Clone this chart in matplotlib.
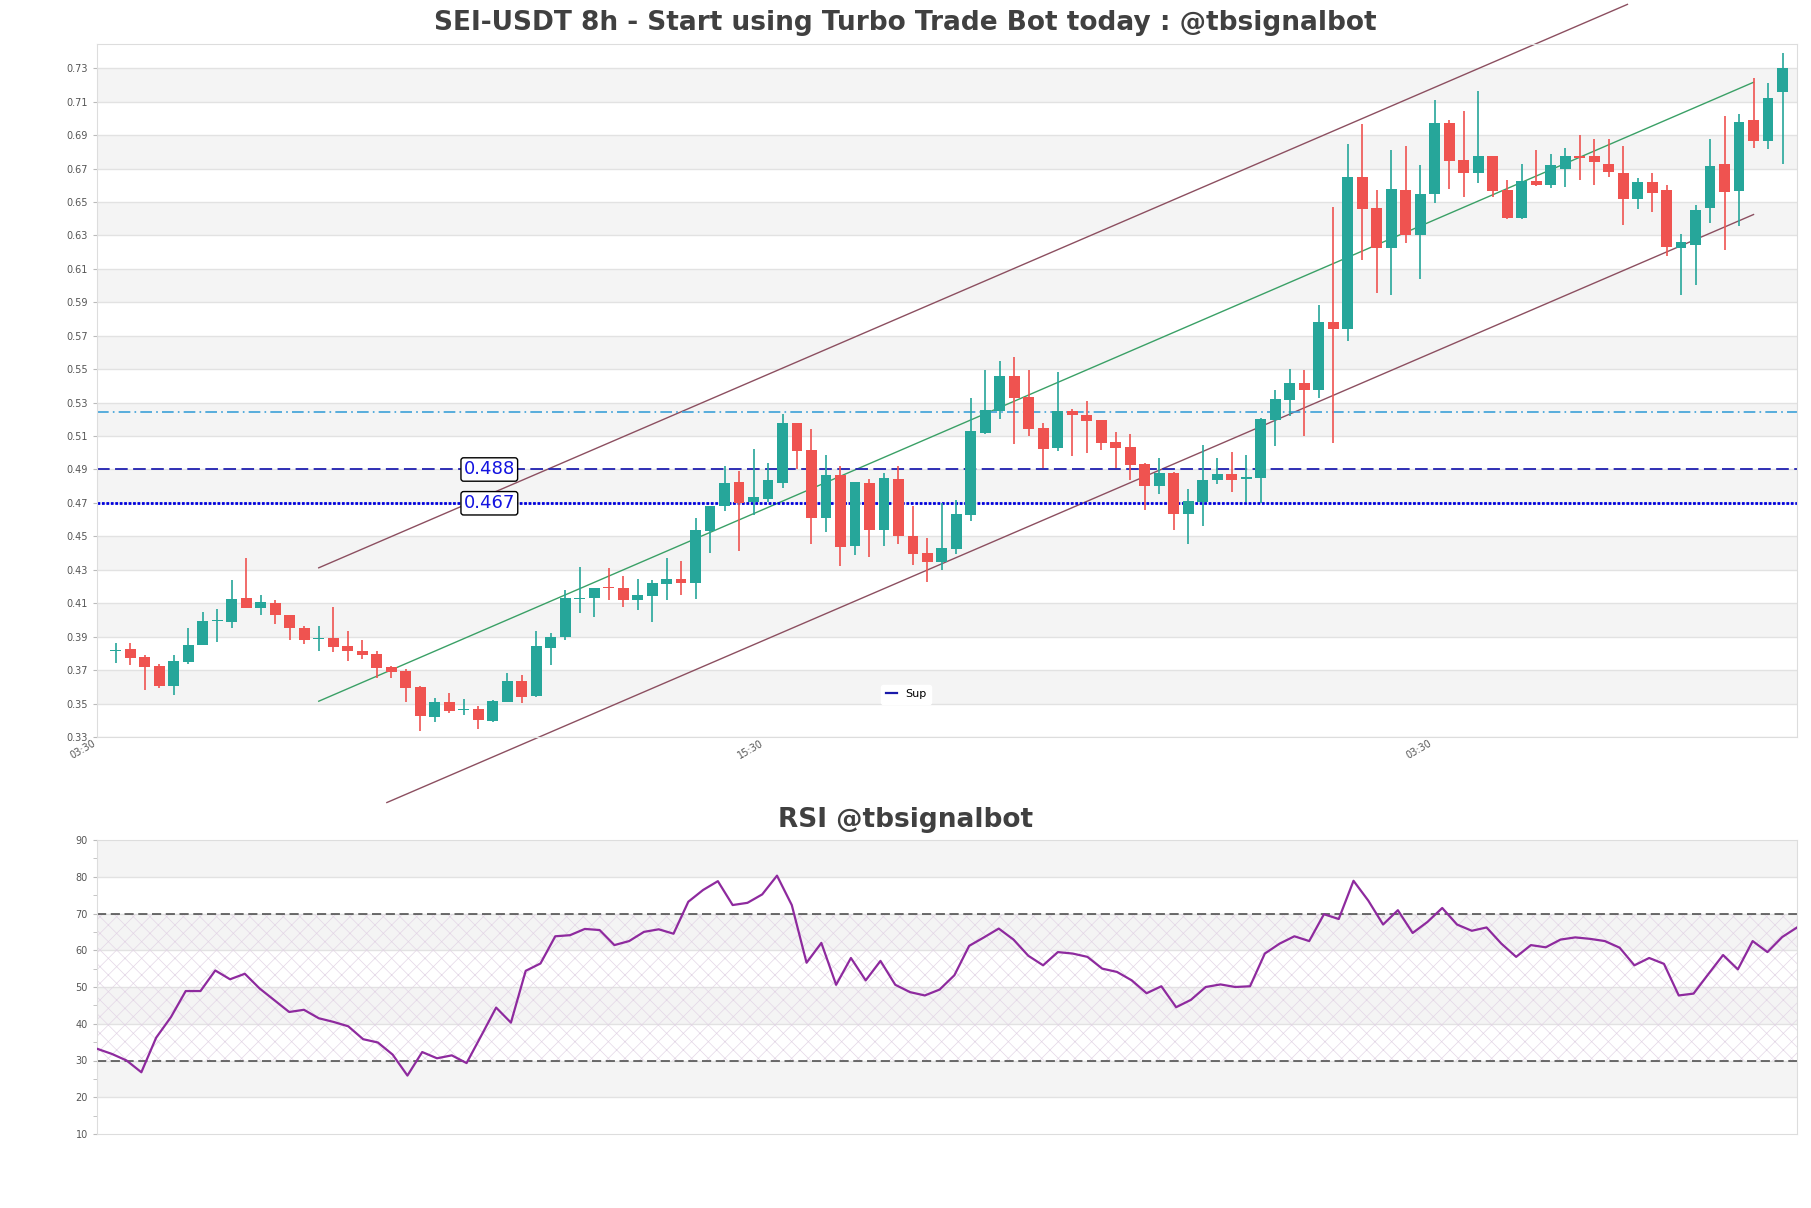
"""SEI-USDT 8h candles with channel + support levels, RSI panel below."""
import numpy as np
import matplotlib; matplotlib.use("Agg")
import matplotlib.pyplot as plt
from matplotlib.ticker import MultipleLocator

# ---- OHLC ----
opens = [0.3792, 0.3802, 0.3753, 0.3699, 0.3580, 0.3725, 0.3828, 0.3968, 0.3966, 0.4107,
         0.4047, 0.4079, 0.4007, 0.3928, 0.3862, 0.3866, 0.3820, 0.3790, 0.3771, 0.3695,
         0.3671, 0.3574, 0.3394, 0.3487, 0.3439, 0.3445, 0.3373, 0.3485, 0.3609, 0.3521,
         0.3810, 0.3874, 0.4104, 0.4106, 0.4172, 0.4166, 0.4094, 0.4122, 0.4194, 0.4220,
         0.4200, 0.4510, 0.4657, 0.4800, 0.4680, 0.4702, 0.4798, 0.5155, 0.4993, 0.4586,
         0.4843, 0.4420, 0.4795, 0.4516, 0.4819, 0.4476, 0.4376, 0.4324, 0.4400, 0.4606,
         0.5095, 0.5225, 0.5438, 0.5310, 0.5125, 0.5007, 0.5225, 0.5201, 0.5173, 0.5039,
         0.5011, 0.4911, 0.4779, 0.4855, 0.4611, 0.4683, 0.4811, 0.4847, 0.4819, 0.4823,
         0.5174, 0.5294, 0.5392, 0.5354, 0.5758, 0.5718, 0.6626, 0.6441, 0.6201, 0.6550,
         0.6281, 0.6521, 0.6947, 0.6725, 0.6649, 0.6749, 0.6549, 0.6379, 0.6603, 0.6577,
         0.6673, 0.6749, 0.6749, 0.6701, 0.6647, 0.6493, 0.6597, 0.6545, 0.6202, 0.6218,
         0.6441, 0.6701, 0.6541, 0.6965, 0.6841, 0.7136]
highs = [0.3838, 0.3838, 0.3765, 0.3715, 0.3765, 0.3928, 0.4025, 0.4041, 0.4218, 0.4344,
         0.4127, 0.4095, 0.4007, 0.3938, 0.3942, 0.4055, 0.3910, 0.3856, 0.3788, 0.3701,
         0.3685, 0.3580, 0.3510, 0.3537, 0.3505, 0.3461, 0.3497, 0.3657, 0.3647, 0.3908,
         0.3896, 0.4158, 0.4290, 0.4170, 0.4284, 0.4238, 0.4220, 0.4214, 0.4344, 0.4328,
         0.4584, 0.4657, 0.4895, 0.4870, 0.4999, 0.4915, 0.5209, 0.5155, 0.5119, 0.4963,
         0.4895, 0.4799, 0.4819, 0.4855, 0.4895, 0.4659, 0.4464, 0.4675, 0.4691, 0.5303,
         0.5472, 0.5526, 0.5546, 0.5474, 0.5155, 0.5458, 0.5239, 0.5287, 0.5173, 0.5101,
         0.5087, 0.4915, 0.4943, 0.4859, 0.4759, 0.5023, 0.4943, 0.4979, 0.4963, 0.5186,
         0.5354, 0.5478, 0.5474, 0.5857, 0.6447, 0.6820, 0.6941, 0.6550, 0.6784, 0.6808,
         0.6696, 0.7086, 0.6965, 0.7021, 0.7142, 0.6749, 0.6609, 0.6701, 0.6785, 0.6761,
         0.6797, 0.6877, 0.6853, 0.6853, 0.6809, 0.6621, 0.6647, 0.6577, 0.6282, 0.6457,
         0.6853, 0.6993, 0.7005, 0.7220, 0.7186, 0.7366]
lows = [0.3717, 0.3707, 0.3556, 0.3568, 0.3530, 0.3715, 0.3828, 0.3846, 0.3930, 0.4045,
        0.4003, 0.3954, 0.3858, 0.3834, 0.3792, 0.3784, 0.3731, 0.3743, 0.3631, 0.3631,
        0.3484, 0.3309, 0.3363, 0.3421, 0.3409, 0.3321, 0.3365, 0.3485, 0.3477, 0.3517,
        0.3705, 0.3856, 0.4020, 0.3995, 0.4096, 0.4054, 0.4034, 0.3965, 0.4096, 0.4126,
        0.4100, 0.4376, 0.4628, 0.4390, 0.4606, 0.4680, 0.4764, 0.4879, 0.4432, 0.4504,
        0.4300, 0.4366, 0.4354, 0.4416, 0.4432, 0.4306, 0.4204, 0.4276, 0.4370, 0.4568,
        0.5091, 0.5179, 0.5031, 0.5079, 0.4883, 0.4989, 0.4959, 0.4977, 0.4995, 0.4883,
        0.4815, 0.4635, 0.4731, 0.4515, 0.4431, 0.4539, 0.4787, 0.4739, 0.4679, 0.4675,
        0.5015, 0.5198, 0.5079, 0.5306, 0.5035, 0.5642, 0.6127, 0.5933, 0.5917, 0.6233,
        0.6013, 0.6467, 0.6556, 0.6505, 0.6589, 0.6505, 0.6373, 0.6373, 0.6573, 0.6561,
        0.6565, 0.6607, 0.6577, 0.6625, 0.6338, 0.6437, 0.6414, 0.6154, 0.5922, 0.5982,
        0.6350, 0.6190, 0.6334, 0.6801, 0.6793, 0.6701]
closes = [0.3795, 0.3749, 0.3695, 0.3580, 0.3729, 0.3826, 0.3970, 0.3972, 0.4101, 0.4045,
          0.4085, 0.4003, 0.3930, 0.3858, 0.3868, 0.3814, 0.3792, 0.3767, 0.3689, 0.3665,
          0.3568, 0.3400, 0.3486, 0.3431, 0.3443, 0.3377, 0.3489, 0.3609, 0.3515, 0.3818,
          0.3872, 0.4106, 0.4110, 0.4170, 0.4166, 0.4094, 0.4124, 0.4198, 0.4220, 0.4200,
          0.4514, 0.4657, 0.4794, 0.4676, 0.4712, 0.4816, 0.5155, 0.4989, 0.4586, 0.4843,
          0.4414, 0.4799, 0.4516, 0.4825, 0.4480, 0.4372, 0.4324, 0.4404, 0.4610, 0.5107,
          0.5233, 0.5438, 0.5306, 0.5119, 0.5001, 0.5225, 0.5199, 0.5169, 0.5037, 0.5007,
          0.4905, 0.4779, 0.4855, 0.4611, 0.4687, 0.4813, 0.4849, 0.4815, 0.4831, 0.5178,
          0.5298, 0.5394, 0.5354, 0.5758, 0.5714, 0.6626, 0.6437, 0.6201, 0.6556, 0.6281,
          0.6521, 0.6947, 0.6721, 0.6649, 0.6749, 0.6541, 0.6379, 0.6603, 0.6577, 0.6699,
          0.6753, 0.6737, 0.6717, 0.6653, 0.6493, 0.6593, 0.6529, 0.6206, 0.6234, 0.6429,
          0.6693, 0.6537, 0.6957, 0.6841, 0.7101, 0.7276]

rsi = [33.2, 31.8, 30.0, 26.8, 36.2, 41.8, 48.9, 48.9, 54.5, 52.1,
       53.6, 49.6, 46.4, 43.2, 43.8, 41.5, 40.5, 39.3, 35.8, 34.9,
       31.6, 25.9, 32.3, 30.6, 31.4, 29.3, 36.8, 44.4, 40.3, 54.4,
       56.4, 63.8, 64.1, 65.8, 65.5, 61.4, 62.5, 65.0, 65.7, 64.5,
       73.2, 76.4, 78.8, 72.3, 72.9, 75.2, 80.3, 72.3, 56.6, 62.0,
       50.6, 57.9, 51.8, 57.1, 50.6, 48.6, 47.7, 49.3, 53.2, 61.2,
       63.5, 65.9, 62.9, 58.5, 55.9, 59.5, 59.1, 58.2, 55.0, 54.1,
       51.8, 48.3, 50.2, 44.5, 46.5, 50.0, 50.7, 50.0, 50.2, 59.1,
       61.8, 63.8, 62.5, 69.8, 68.5, 78.9, 73.5, 67.0, 70.9, 64.7,
       67.7, 71.5, 67.0, 65.3, 66.2, 61.8, 58.2, 61.4, 60.8, 62.9,
       63.5, 63.1, 62.5, 60.7, 55.9, 57.9, 56.3, 47.7, 48.2, 53.5,
       58.7, 54.8, 62.5, 59.5, 63.6, 66.2]

# channel lines (candle index, price)
mid_x, mid_y = [14, 113], [0.3490, 0.7192]
up_x, up_y = [14, 104.3], [0.4288, 0.7658]
lo_x, lo_y = [18.7, 113], [0.2884, 0.6401]

sup_levels = [0.4876, 0.4674]
res_level = 0.5218

xtick_pos = [-1.3, 44.8, 90.9]
xtick_lab = ["03:30", "15:30", "03:30"]
price_ticks = [0.3276 + 0.02 * k for k in range(21)]

UP, DN = "#26a69a", "#ef5350"
GREY_BAND = "#f4f4f4"
plt.rcParams["hatch.linewidth"] = 0.5

fig = plt.figure(figsize=(18.11, 12.08), dpi=100)
ax = fig.add_axes([97 / 1811, 1 - 737 / 1208, 1700 / 1811, 693 / 1208])
ar = fig.add_axes([97 / 1811, 1 - 1134 / 1208, 1700 / 1811, 294 / 1208])

# ---- price panel ----
x = np.arange(len(opens))
o, h, l, c = map(np.array, (opens, highs, lows, closes))
col = np.where(c >= o, UP, DN)
ax.vlines(x, l, h, colors=col, lw=1.2, zorder=3)
ax.bar(x, np.maximum(np.abs(c - o), 0.0006), bottom=np.minimum(o, c), width=0.75,
       color=col, zorder=4)

for k in range(1, len(price_ticks) - 1, 2):
    ax.axhspan(price_ticks[k], price_ticks[k + 1], color=GREY_BAND, zorder=0, lw=0)
for t in price_ticks:
    ax.axhline(t, color="#e2e2e2", lw=1, zorder=0.5)

ax.plot(mid_x, mid_y, color="#3aa066", lw=1, zorder=2)
ax.plot(up_x, up_y, color="#8c4f60", lw=1, zorder=2, clip_on=False)
ax.plot(lo_x, lo_y, color="#8c4f60", lw=1, zorder=2, clip_on=False)

ax.axhline(sup_levels[0], color="#2020b0", lw=1.3, ls=(0, (7, 3)), zorder=2)
ax.axhline(sup_levels[1], color="#0000dd", lw=2, ls=(0, (1, 0.6)), zorder=2)
ax.axhline(res_level, color="#3ca0d8", lw=1.2, ls=(0, (7, 2.5, 1, 2.5)), zorder=2)
for lv in sup_levels:
    ax.text(24, lv, f"{lv:.3f}", color="#1414e0", fontsize=13, ha="left", va="center",
            zorder=6, bbox=dict(boxstyle="round,pad=0.15", fc="white", ec="black", lw=1))

ax.plot([], [], color="#1a1aaa", lw=1.6, label="Sup")
ax.legend(loc="lower center", bbox_to_anchor=(0.476, 0.04), fontsize=8, handlelength=1.0,
          frameon=True, facecolor="white", edgecolor="white", framealpha=1)

ax.set_xlim(-1, len(opens))
ax.set_ylim(0.3276, 0.7421)
ax.set_yticks(price_ticks, [f"{t:.2f}" for t in price_ticks])
ax.set_xticks(xtick_pos, xtick_lab, rotation=30, ha="right")
ax.tick_params(axis="y", labelsize=7, labelcolor="#555555", color="#bbbbbb", length=3)
ax.tick_params(axis="x", labelsize=7, labelcolor="#555555", length=0, pad=1)

# ---- RSI panel ----
xr = np.arange(len(rsi))
for lo_b in (20, 40, 60, 80):
    ar.axhspan(lo_b, lo_b + 10, color=GREY_BAND, zorder=0, lw=0)
ar.fill_between([0, len(rsi) - 1], 30, 70, facecolor="none", hatch="xx",
                edgecolor="#e3d6e6", lw=0, zorder=0.6)
for t in range(20, 90, 10):
    ar.axhline(t, color="#e2e2e2", lw=1, zorder=0.5)
ar.axhline(70, color="#444444", lw=1.1, ls=(0, (6, 3)), zorder=2)
ar.axhline(30, color="#444444", lw=1.1, ls=(0, (6, 3)), zorder=2)
ar.plot(xr, rsi, color="#8e2a9e", lw=1.6, zorder=3)
ar.set_xlim(0, len(rsi) - 1)
ar.set_ylim(10, 90)
ar.set_yticks(range(10, 91, 10))
ar.yaxis.set_minor_locator(MultipleLocator(5))
ar.set_xticks([])
ar.tick_params(axis="y", which="both", labelsize=7, labelcolor="#555555", color="#bbbbbb", length=3)

for a in (ax, ar):
    for s in a.spines.values():
        s.set_color("#dddddd")

fig.text(0.5, 1 - 23 / 1208, "SEI-USDT 8h - Start using Turbo Trade Bot today : @tbsignalbot",
         ha="center", va="center", fontsize=19, fontweight="bold", color="#404040")
fig.text(0.5, 1 - 820 / 1208, "RSI @tbsignalbot", ha="center", va="center",
         fontsize=19, fontweight="bold", color="#404040")

fig.savefig("out.png", dpi=100)
